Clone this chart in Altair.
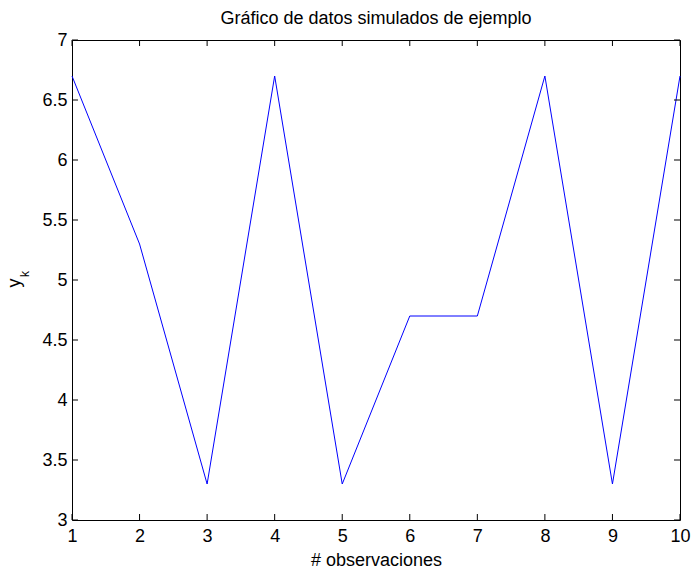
import altair as alt
import pandas as pd

obs = [1, 2, 3, 4, 5, 6, 7, 8, 9, 10]
yk = [6.7, 5.3, 3.3, 6.7, 3.3, 4.7, 4.7, 6.7, 3.3, 6.7]
xticks = [1, 2, 3, 4, 5, 6, 7, 8, 9, 10]
yticks = [3, 3.5, 4, 4.5, 5, 5.5, 6, 6.5, 7]

W, H = 608, 480
FONT = "Liberation Sans"
FS = 18

df = pd.DataFrame({"x": obs, "y": yk})
dfx = pd.DataFrame({"v": xticks})
dfy = pd.DataFrame({"v": yticks})
one = pd.DataFrame({"a": [0]})

xs = alt.Scale(domain=[1, 10], nice=False, zero=False)
ys = alt.Scale(domain=[3, 7], nice=False, zero=False)

common = dict(grid=False, tickSize=0, domain=False, labelFlush=False,
              labelFont=FONT, labelFontSize=FS, labelColor="black",
              titleFont=FONT, titleFontSize=FS, titleFontWeight="normal",
              titleColor="black", format="~g")

line = alt.Chart(df).mark_line(color="#0000FF", strokeWidth=1).encode(
    x=alt.X("x:Q", scale=xs,
            axis=alt.Axis(values=xticks, title="# observaciones",
                          labelPadding=7, titlePadding=6, **common)),
    y=alt.Y("y:Q", scale=ys,
            axis=alt.Axis(values=yticks, title=None, labelPadding=5, **common)),
)

tl = 6
ytick_l = alt.Chart(dfy).mark_rule(color="black", strokeWidth=1).encode(
    y=alt.Y("v:Q", scale=ys), x=alt.value(0), x2=alt.value(tl))
ytick_r = alt.Chart(dfy).mark_rule(color="black", strokeWidth=1).encode(
    y=alt.Y("v:Q", scale=ys), x=alt.value(W - tl), x2=alt.value(W))
xtick_b = alt.Chart(dfx).mark_rule(color="black", strokeWidth=1).encode(
    x=alt.X("v:Q", scale=xs), y=alt.value(H), y2=alt.value(H - tl))
xtick_t = alt.Chart(dfx).mark_rule(color="black", strokeWidth=1).encode(
    x=alt.X("v:Q", scale=xs), y=alt.value(0), y2=alt.value(tl))

ylab = alt.Chart(one).mark_text(text="y", angle=270, align="center",
                                baseline="alphabetic", font=FONT,
                                fontSize=FS, color="black").encode(
    x=alt.value(-52), y=alt.value(243))
ysub = alt.Chart(one).mark_text(text="k", angle=270, align="left",
                                baseline="alphabetic", font=FONT,
                                fontSize=12, color="black").encode(
    x=alt.value(-43), y=alt.value(237))

chart = alt.layer(line, ytick_l, ytick_r, xtick_b, xtick_t, ylab, ysub).properties(
    width=W, height=H,
    title=alt.TitleParams("Gráfico de datos simulados de ejemplo", font=FONT,
                          fontSize=FS, fontWeight="normal", color="black",
                          offset=3),
    autosize=alt.AutoSizeParams(type="none"),
    padding={"left": 72, "top": 40, "right": 11, "bottom": 49},
).configure(background="white").configure_view(stroke="black", strokeWidth=1)

chart.save("out.html", embed_options={"renderer": "svg", "actions": False})
